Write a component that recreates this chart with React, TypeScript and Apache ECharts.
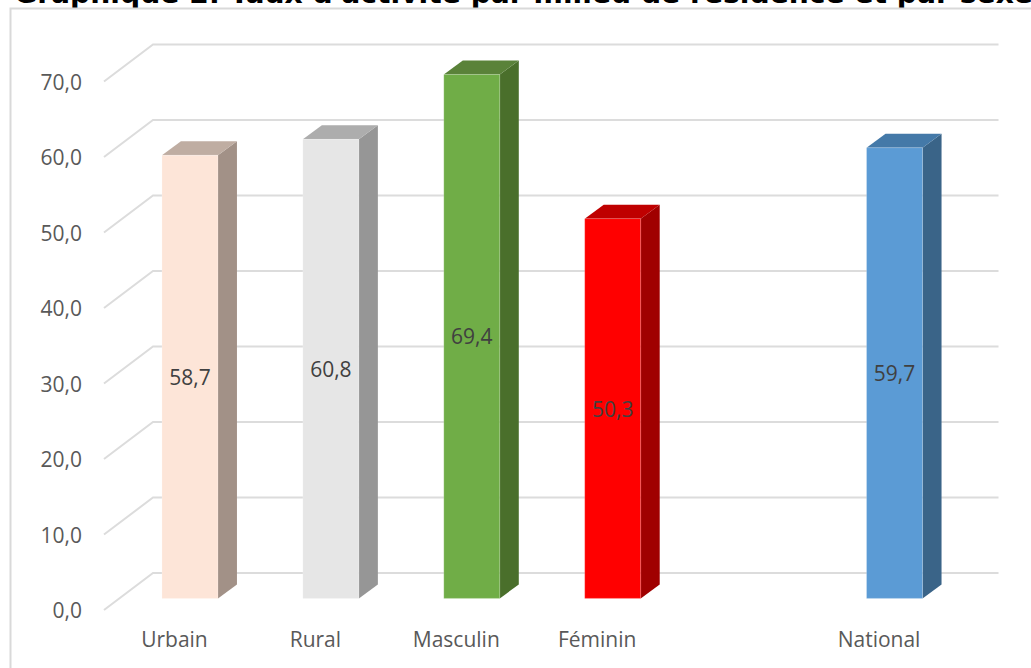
import React, { useEffect, useRef } from "react";
import * as echarts from "echarts";

const categories = ["Urbain", "Rural", "Masculin", "Féminin", "", "National"];
const values: (number | null)[] = [58.7, 60.8, 69.4, 50.3, null, 59.7];
const frontColors = ["#FDE5D8", "#E6E6E6", "#70AD47", "#FF0000", "", "#5B9BD5"];
const topColors = ["#BFADA2", "#ADADAD", "#5A8239", "#BF0000", "", "#4479A8"];
const sideColors = ["#A29187", "#969696", "#4A6F2B", "#A00000", "", "#3A6488"];
const gridTicks = [0, 10, 20, 30, 40, 50, 60, 70];
const titleText = "Graphique 2: Taux d'activité par milieu de résidence et par sexe";

const FONT = "'Open Sans', sans-serif";
const fmt = (v: number) => v.toFixed(1).replace(".", ",");

const DEPTH_X = 49;
const DEPTH_Y = 37;
const BAR_W = 56;
const BAR_OFF_X = 15.5;
const BAR_OFF_Y = 11.6;
const BAR_DX = 19;
const BAR_DY = 14;

export default function App() {
  const ref = useRef<HTMLDivElement>(null);
  useEffect(() => {
    document.body.style.margin = "0";
    const chart = echarts.init(ref.current!, undefined, { renderer: "svg" });
    chart.setOption({
      animation: false,
      backgroundColor: "#FFFFFF",
      graphic: [
        {
          type: "text",
          z: 1,
          x: 14,
          y: -6.3,
          style: {
            text: titleText,
            fill: "#000000",
            font: "bold 28.2px 'DejaVu Sans', Verdana, sans-serif",
            textAlign: "left",
            textVerticalAlign: "middle",
          },
        },
        {
          type: "rect",
          z: 2,
          shape: { x: 0, y: 8, width: 1031, height: 20 },
          style: { fill: "#FFFFFF" },
        },
        {
          type: "polyline",
          z: 3,
          shape: { points: [[10.5, 680], [10.5, 8.5], [1040, 8.5]] },
          style: { fill: "none", stroke: "#D9D9D9", lineWidth: 2 },
        },
      ],
      grid: { left: 104, right: 81.5, top: 81.5, height: 528.5 },
      xAxis: {
        type: "category",
        data: categories,
        axisLine: { show: false },
        axisTick: { show: false },
        axisLabel: { color: "#595959", fontSize: 21, fontFamily: FONT, margin: 18, interval: 0 },
      },
      yAxis: {
        type: "value",
        min: 0,
        max: 70,
        interval: 10,
        splitLine: { show: false },
        axisLine: { show: false },
        axisTick: { show: false },
        axisLabel: {
          color: "#595959",
          fontSize: 21,
          fontFamily: FONT,
          margin: 22,
          padding: [2, 0, 0, 0],
          formatter: (v: number) => fmt(v),
        },
      },
      series: [
        {
          type: "custom",
          silent: true,
          clip: false,
          z: 2,
          data: gridTicks.map((t) => [0, t]),
          renderItem: (params: any, api: any) => {
            const p = api.coord([0, api.value(1)]);
            const cs = params.coordSys;
            const x0 = cs.x;
            const x1 = cs.x + cs.width + DEPTH_X;
            return {
              type: "polyline",
              shape: {
                points: [
                  [x0, p[1]],
                  [x0 + DEPTH_X, p[1] - DEPTH_Y],
                  [x1, p[1] - DEPTH_Y],
                ],
              },
              style: { fill: "none", stroke: "#DCDCDC", lineWidth: 2 },
            };
          },
        },
        {
          type: "custom",
          silent: true,
          clip: false,
          z: 3,
          data: values.map((v, i) => [i, v]),
          renderItem: (params: any, api: any) => {
            const i = api.value(0);
            const v = values[i];
            if (v === null) return null;
            const top = api.coord([i, v]);
            const base = api.coord([i, 0]);
            const l = top[0] + BAR_OFF_X - BAR_W / 2;
            const r = l + BAR_W;
            const t = top[1] - BAR_OFF_Y;
            const b = base[1] - BAR_OFF_Y;
            return {
              type: "group",
              children: [
                {
                  type: "polygon",
                  shape: { points: [[r, t], [r + BAR_DX, t - BAR_DY], [r + BAR_DX, b - BAR_DY], [r, b]] },
                  style: { fill: sideColors[i] },
                },
                {
                  type: "polygon",
                  shape: { points: [[l, t], [l + BAR_DX, t - BAR_DY], [r + BAR_DX, t - BAR_DY], [r, t]] },
                  style: { fill: topColors[i] },
                },
                {
                  type: "rect",
                  shape: { x: l, y: t, width: BAR_W, height: b - t },
                  style: { fill: frontColors[i], stroke: "#FFFFFF", strokeOpacity: 0.2, lineWidth: 1 },
                },
                {
                  type: "text",
                  x: (l + r) / 2,
                  y: (t + b) / 2,
                  style: {
                    text: fmt(v),
                    fill: "#404040",
                    font: `21px ${FONT}`,
                    textAlign: "center",
                    textVerticalAlign: "middle",
                  },
                },
              ],
            };
          },
        },
      ],
    });
    return () => chart.dispose();
  }, []);
  return <div ref={ref} style={{ width: 1031, height: 668, overflow: "hidden" }} />;
}
